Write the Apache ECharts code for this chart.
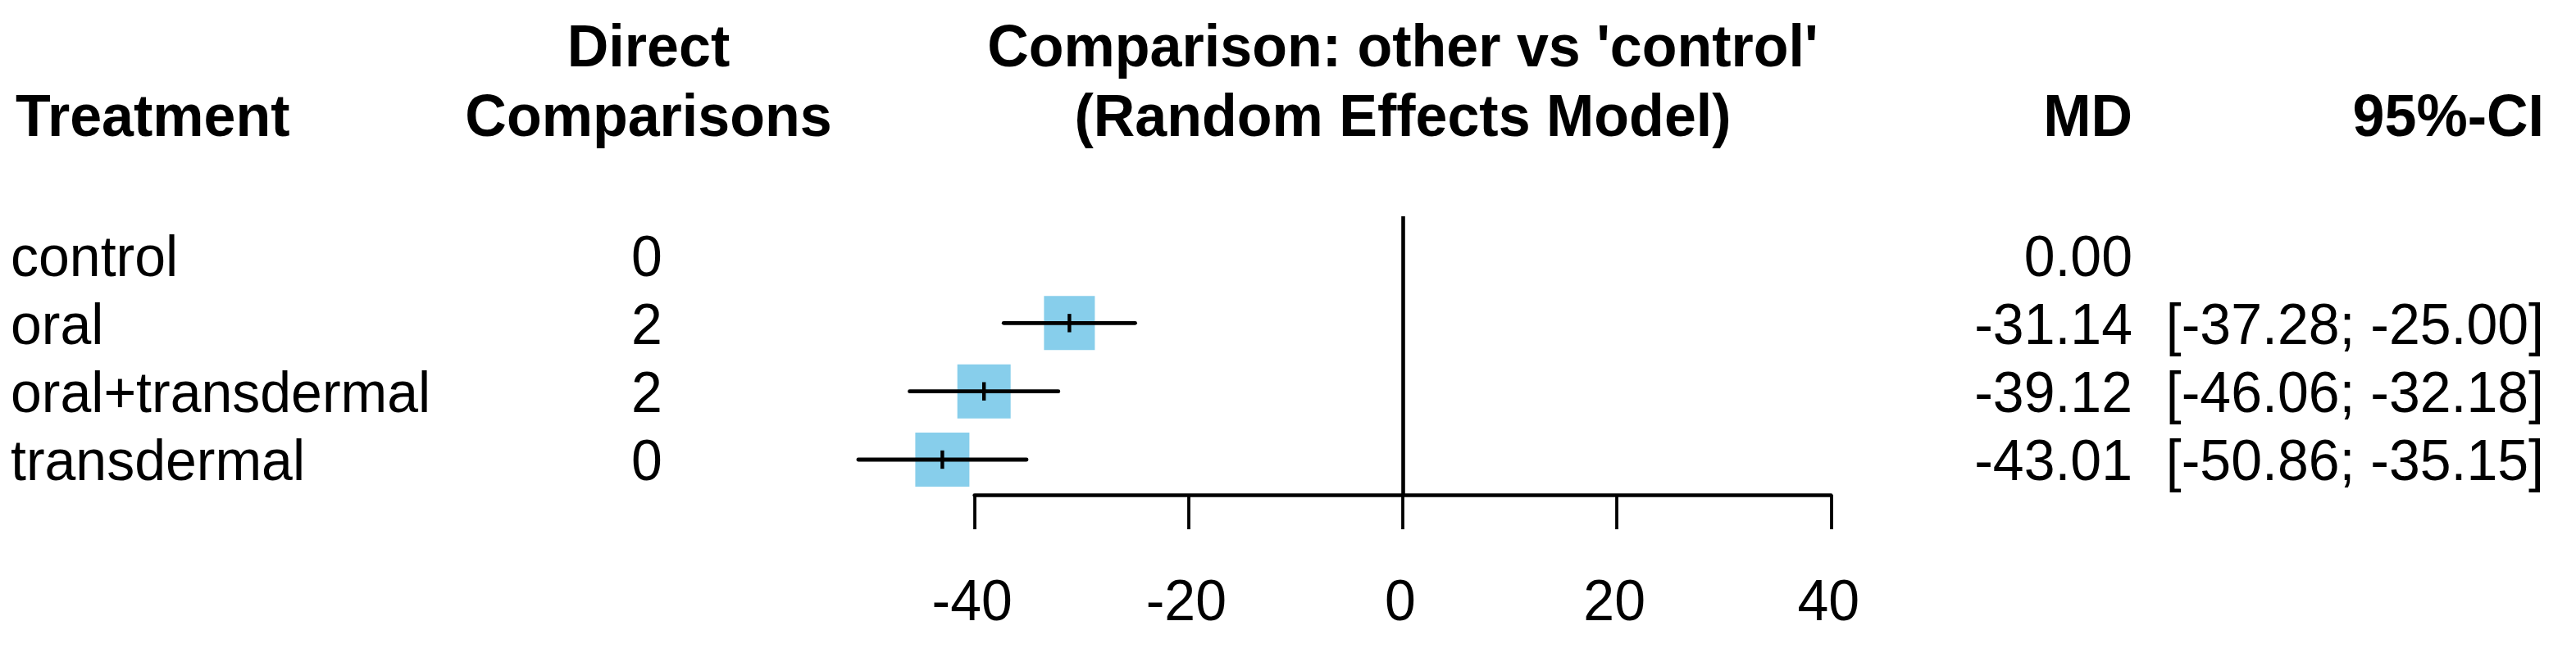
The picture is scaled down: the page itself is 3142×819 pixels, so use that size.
<!DOCTYPE html>
<html>
<head>
<meta charset="utf-8">
<script src="https://cdn.jsdelivr.net/npm/echarts@6/dist/echarts.min.js"></script>
<style>
html,body{margin:0;padding:0;background:#fff;}
#chart{width:3142px;height:819px;}
</style>
</head>
<body>
<div id="chart"></div>
<script>
// ---- data ----
const treatments = ['control', 'oral', 'oral+transdermal', 'transdermal'];
const directComparisons = [0, 2, 2, 0];
const md = [0.00, -31.14, -39.12, -43.01];
const ciLower = [null, -37.28, -46.06, -50.86];
const ciUpper = [null, -25.00, -32.18, -35.15];
const xTickValues = [-40, -20, 0, 20, 40];

// ---- styles / layout ----
const W = 3142, H = 819;
const FONT = '"Liberation Sans", Arial, sans-serif';
const fontReg = '68px ' + FONT;
const fontBold = 'bold 70px ' + FONT;
const SY = 1.04;
const boxColor = '#87CEEB';
const boxWidths = [0, 62, 65, 66];
const boxHeight = 66;
const colTreatX = 13, colDirectX = 789, colMDX = 2601, colCIX = 3103;
const textDy = 6;
const tickLabelDy = 133;
const plotLeft = 1188.7, plotRight = 2233.3, plotTop = 264, plotBottom = 604;
const rowFirst = 311, rowStep = 83.33;

const yMin = (plotTop - rowFirst) / rowStep;
const yMax = (plotBottom - rowFirst) / rowStep;

const chart = echarts.init(document.getElementById('chart'), null, {renderer: 'canvas', width: W, height: H});

const forestData = [];
for (let i = 0; i < treatments.length; i++) {
  if (ciLower[i] !== null) forestData.push([md[i], ciLower[i], ciUpper[i], i]);
}
const tableData = treatments.map((t, i) => [0, i]);
const tickData = xTickValues.map(v => [v, yMax]);

function fmt(v) { return v.toFixed(2); }
function txt(x, y, s, font, align) {
  return {type: 'text', x: x, y: y, scaleY: SY,
    style: {x: 0, y: 0, text: s, font: font, fill: '#000', align: align, verticalAlign: 'middle'}};
}
function headerTxt(x, y, s, align) {
  return {type: 'text', x: x, y: y, scaleY: SY,
    style: {text: s, font: fontBold, fill: '#000', align: align, verticalAlign: 'middle'}};
}

const option = {
  backgroundColor: '#fff',
  animation: false,
  grid: {left: plotLeft, right: W - plotRight, top: plotTop, bottom: H - plotBottom, containLabel: false},
  xAxis: {
    type: 'value',
    min: xTickValues[0],
    max: xTickValues[xTickValues.length - 1],
    interval: xTickValues[1] - xTickValues[0],
    axisLine: {show: true, onZero: false, lineStyle: {color: '#000', width: 4.7}},
    axisTick: {show: true, inside: false, length: 42, lineStyle: {color: '#000', width: 3.8}},
    splitLine: {show: false},
    axisLabel: {show: false}
  },
  yAxis: {
    type: 'value', inverse: true, min: yMin, max: yMax, show: false, splitLine: {show: false}
  },
  graphic: [
    headerTxt(19, 146, 'Treatment', 'left'),
    headerTxt(791, 61, 'Direct', 'center'),
    headerTxt(791, 146, 'Comparisons', 'center'),
    headerTxt(1711, 61, "Comparison: other vs 'control'", 'center'),
    headerTxt(1711, 146, '(Random Effects Model)', 'center'),
    headerTxt(colMDX, 146, 'MD', 'right'),
    headerTxt(colCIX, 146, '95%-CI', 'right')
  ],
  series: [
    {
      type: 'custom',
      name: 'forest',
      clip: false,
      data: forestData,
      renderItem: function (params, api) {
        const i = api.value(3);
        const c = api.coord([api.value(0), i]);
        const lo = api.coord([api.value(1), i]);
        const hi = api.coord([api.value(2), i]);
        const bw = boxWidths[i];
        return {
          type: 'group',
          children: [
            {type: 'rect', shape: {x: c[0] - bw / 2, y: c[1] - boxHeight / 2, width: bw, height: boxHeight},
              style: {fill: boxColor, stroke: null}},
            {type: 'line', shape: {x1: lo[0], y1: lo[1], x2: hi[0], y2: hi[1]},
              style: {stroke: '#000', lineWidth: 4.8, lineCap: 'round'}},
            {type: 'line', shape: {x1: c[0], y1: c[1] - 11.2, x2: c[0], y2: c[1] + 11.2},
              style: {stroke: '#000', lineWidth: 4.4, lineCap: 'butt'}}
          ]
        };
      },
      markLine: {
        silent: true,
        symbol: 'none',
        label: {show: false},
        lineStyle: {color: '#000', width: 4.6, type: 'solid'},
        data: [{xAxis: 0}]
      }
    },
    {
      type: 'custom',
      name: 'table',
      clip: false,
      data: tableData,
      renderItem: function (params, api) {
        const i = api.value(1);
        const y = api.coord([0, i])[1] + textDy;
        const children = [
          txt(colTreatX, y, treatments[i], fontReg, 'left'),
          txt(colDirectX, y, String(directComparisons[i]), fontReg, 'center'),
          txt(colMDX, y, fmt(md[i]), fontReg, 'right')
        ];
        if (ciLower[i] !== null) {
          children.push(txt(colCIX, y, '[' + fmt(ciLower[i]) + '; ' + fmt(ciUpper[i]) + ']', fontReg, 'right'));
        }
        return {type: 'group', children: children};
      }
    },
    {
      type: 'custom',
      name: 'tickLabels',
      clip: false,
      data: tickData,
      renderItem: function (params, api) {
        const p = api.coord([api.value(0), api.value(1)]);
        return txt(p[0] - 3, p[1] + tickLabelDy, String(api.value(0)), fontReg, 'center');
      }
    }
  ]
};
chart.setOption(option);
</script>
</body>
</html>
